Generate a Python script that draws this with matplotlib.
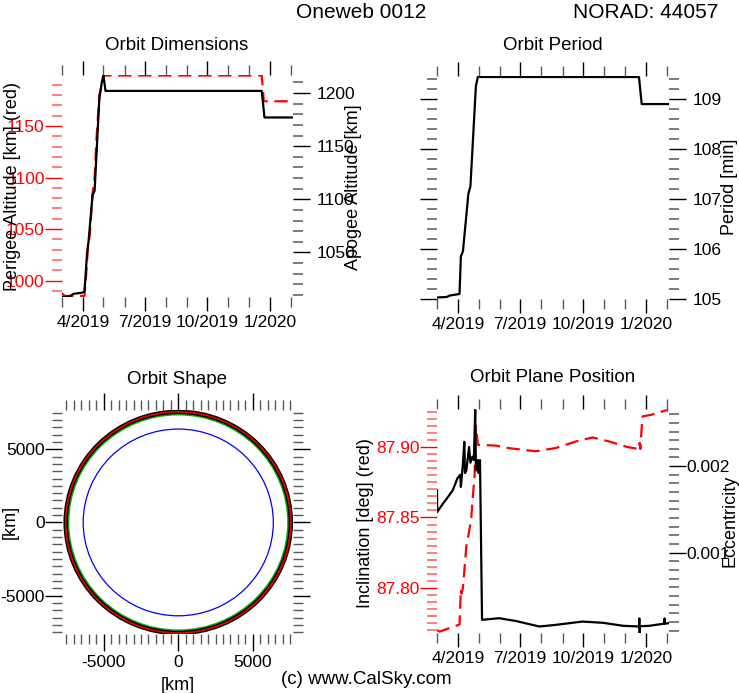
import numpy as np
import matplotlib
matplotlib.use('Agg')
import matplotlib.pyplot as plt
import matplotlib.dates as mdates
from matplotlib.ticker import MultipleLocator, FuncFormatter, FormatStrFormatter
from matplotlib.patches import Circle

plt.rcParams['font.family'] = ['Liberation Sans', 'DejaVu Sans']
plt.rcParams['axes.unicode_minus'] = False

W, H = 739, 693
TICK_FS = 12.5
LABEL_FS = 13

# --- data ---
apogee_dates = ['2019-03-01', '2019-03-12', '2019-03-18', '2019-03-30', '2019-04-03',
                '2019-04-07', '2019-04-09', '2019-04-15', '2019-04-18', '2019-04-25',
                '2019-04-28', '2019-05-01', '2019-05-04', '2019-12-20', '2019-12-24',
                '2020-02-03']
apogee_km = [1008, 1008.5, 1011, 1012, 1013, 1050, 1060, 1104, 1108, 1195,
             1208, 1217, 1202, 1202, 1177, 1177]

perigee_dates = ['2019-02-28', '2019-03-05', '2019-04-03', '2019-04-05', '2019-04-08',
                 '2019-04-11', '2019-04-15', '2019-04-18', '2019-04-21', '2019-04-25',
                 '2019-04-28', '2019-05-02', '2019-12-20', '2019-12-23', '2020-02-03']
perigee_km = [988, 985, 985, 1000, 1030, 1045, 1085, 1100, 1140, 1180,
              1188, 1199, 1199, 1174, 1174]

period_dates = ['2019-03-01', '2019-03-15', '2019-03-20', '2019-04-03', '2019-04-05',
                '2019-04-08', '2019-04-16', '2019-04-19', '2019-04-27', '2019-04-30',
                '2019-05-05', '2019-12-22', '2019-12-26', '2020-02-04']
period_min = [105.03, 105.04, 105.07, 105.10, 105.85, 105.95, 107.1, 107.25, 109.25,
              109.44, 109.43, 109.43, 108.89, 108.89]

incl_dates = ['2019-03-01', '2019-03-05', '2019-04-03', '2019-04-05', '2019-04-06',
              '2019-04-08', '2019-04-13', '2019-04-20', '2019-04-22', '2019-04-25',
              '2019-04-27', '2019-04-30', '2019-05-27', '2019-06-10', '2019-06-25',
              '2019-07-24', '2019-08-22', '2019-09-21', '2019-10-15', '2019-11-08',
              '2019-12-05', '2019-12-22', '2019-12-23', '2019-12-24', '2019-12-27',
              '2020-01-10', '2020-01-30', '2020-02-03']
incl_deg = [87.770, 87.769, 87.774, 87.799, 87.796, 87.800, 87.8295, 87.848, 87.862,
            87.879, 87.915, 87.9016, 87.901, 87.8995, 87.8986, 87.897, 87.8993, 87.904,
            87.9068, 87.904, 87.900, 87.8986, 87.903, 87.8986, 87.9217, 87.923, 87.926,
            87.926]

ecc_dates = ['2019-03-01T00', '2019-03-01T06', '2019-03-10', '2019-03-14', '2019-03-24',
             '2019-03-31', '2019-04-04', '2019-04-05', '2019-04-08', '2019-04-10',
             '2019-04-11', '2019-04-13', '2019-04-17', '2019-04-19', '2019-04-22',
             '2019-04-24', '2019-04-26', '2019-04-27', '2019-04-30', '2019-05-01',
             '2019-05-03', '2019-05-06', '2019-05-31', '2019-06-25', '2019-07-29',
             '2019-08-22', '2019-09-30', '2019-10-30', '2019-11-29', '2019-12-22T00',
             '2019-12-22T12', '2019-12-23T00', '2019-12-23T12', '2020-01-06',
             '2020-01-28T00', '2020-01-28T12', '2020-01-29', '2020-02-03']
ecc = [0.00172, 0.00147, 0.00157, 0.00161, 0.00172, 0.00186, 0.00190, 0.00176,
       0.00203, 0.00228, 0.00192, 0.00195, 0.00222, 0.00204, 0.00211, 0.00207,
       0.00265, 0.00195, 0.00207, 0.00192, 0.00207, 0.000224, 0.000243, 0.00021,
       0.000147, 0.000166, 0.000204, 0.00019, 0.000155, 0.000147, 0.00024,
       0.000074, 0.00015, 0.000155, 0.00018, 0.00024, 0.00018, 0.000185]

earth_radius_km = 6378
orbit_radius_km = earth_radius_km + (apogee_km[-1] + perigee_km[-1]) / 2
old_orbit_radius_km = orbit_radius_km - 170

x_start, x_end = np.datetime64('2019-03-01'), np.datetime64('2020-02-04')


def dt(lst):
    return np.array(lst, dtype='datetime64[h]')


def box(x0, y0, x1, y1):
    return [x0 / W, 1 - y1 / H, (x1 - x0) / W, (y1 - y0) / H]


def no_spines(ax):
    for s in ax.spines.values():
        s.set_visible(False)


def month_fmt(v, pos):
    d = mdates.num2date(v)
    return f"{d.month}/{d.year}"


def date_axis(ax):
    ax.set_xlim(x_start, x_end)
    ax.xaxis.set_major_locator(mdates.MonthLocator(bymonth=[1, 4, 7, 10]))
    ax.xaxis.set_minor_locator(mdates.MonthLocator())
    ax.xaxis.set_major_formatter(FuncFormatter(month_fmt))
    ax.tick_params(axis='x', which='both', top=True, bottom=True, direction='out',
                   labelsize=TICK_FS, pad=3)
    ax.tick_params(axis='x', which='major', length=10, width=1, color='black')
    ax.tick_params(axis='x', which='minor', length=7, width=1, color='0.35')


def y_ticks(ax, color, minor_color):
    ax.tick_params(axis='y', which='both', direction='out', labelsize=TICK_FS, pad=0.5)
    ax.tick_params(axis='y', which='major', length=12, width=1, colors=color)
    ax.tick_params(axis='y', which='minor', length=7.5, width=1.2, color=minor_color)


fig = plt.figure(figsize=(W / 100, H / 100), dpi=100)

fig.text(361 / W, 1 - 12 / H, 'Oneweb 0012', ha='center', va='center', fontsize=15)
fig.text(646 / W, 1 - 12 / H, 'NORAD: 44057', ha='center', va='center', fontsize=15)

# --- Orbit Dimensions ---
ax = fig.add_axes(box(62, 75, 293, 297))
no_spines(ax)
ax.plot(dt(perigee_dates), perigee_km, color='red', lw=1.6, dashes=(6, 3))
ax.set_ylim(984, 1199.5)
ax.yaxis.set_major_locator(MultipleLocator(50))
ax.yaxis.set_minor_locator(MultipleLocator(10))
date_axis(ax)
y_ticks(ax, 'red', '#ff6a6a')
ax2 = ax.twinx()
no_spines(ax2)
ax2.plot(dt(apogee_dates), apogee_km, color='black', lw=1.6)
ax2.set_ylim(1008, 1217)
ax2.yaxis.set_major_locator(MultipleLocator(50))
ax2.yaxis.set_minor_locator(MultipleLocator(10))
y_ticks(ax2, 'black', '0.4')
ax2.tick_params(axis='y', pad=5)
ax2.set_xlim(x_start, x_end)
fig.text(177 / W, 1 - 45 / H, 'Orbit Dimensions', ha='center', va='center', fontsize=13.5)
fig.text(13 / W, 1 - 187 / H, 'Perigee Altitude [km] (red)', rotation=90,
         ha='center', va='center', fontsize=LABEL_FS)
fig.text(354 / W, 1 - 187 / H, 'Apogee Altitude [km]', rotation=90,
         ha='center', va='center', fontsize=LABEL_FS)

# --- Orbit Period ---
ax = fig.add_axes(box(437, 76, 669, 299))
no_spines(ax)
ax.plot(dt(period_dates), period_min, color='black', lw=1.6)
ax.set_ylim(105.0, 109.45)
ax.yaxis.set_major_locator(MultipleLocator(1))
ax.yaxis.set_minor_locator(MultipleLocator(0.2))
ax.yaxis.set_major_formatter(FormatStrFormatter('%d'))
date_axis(ax)
y_ticks(ax, 'black', '0.4')
ax.tick_params(axis='y', which='both', left=True, right=True, labelleft=False,
               labelright=True, pad=5)
fig.text(553 / W, 1 - 45 / H, 'Orbit Period', ha='center', va='center', fontsize=13.5)
fig.text(730 / W, 1 - 187 / H, 'Period [min]', rotation=90,
         ha='center', va='center', fontsize=LABEL_FS)

# --- Orbit Shape ---
ax = fig.add_axes(box(62, 410, 293, 634))
no_spines(ax)
ax.add_patch(Circle((0, 0), earth_radius_km, fill=False, color='blue', lw=0.9))
ax.add_patch(Circle((0, 0), old_orbit_radius_km, fill=False, color='#00b000', lw=1.6))
ax.add_patch(Circle((0, 0), orbit_radius_km, fill=False, color='black', lw=3.2))
ax.add_patch(Circle((0, 0), orbit_radius_km, fill=False, color='#e00000', lw=1.3))
ax.set_xlim(-7800, 7700)
ax.set_ylim(-7620, 7680)
for axis in (ax.xaxis, ax.yaxis):
    axis.set_major_locator(MultipleLocator(5000))
    axis.set_minor_locator(MultipleLocator(500))
ax.tick_params(which='both', direction='out', top=True, right=True, labelsize=TICK_FS)
ax.tick_params(which='major', length=12, width=1, color='black')
ax.tick_params(which='minor', length=7, width=1, color='0.35')
ax.tick_params(axis='x', pad=3)
ax.tick_params(axis='y', pad=0.5)
fig.text(177 / W, 1 - 379 / H, 'Orbit Shape', ha='center', va='center', fontsize=13.5)
fig.text(10 / W, 1 - 522 / H, '[km]', rotation=90, ha='center', va='center',
         fontsize=LABEL_FS)
fig.text(178 / W, 1 - 686 / H, '[km]', ha='center', va='center', fontsize=LABEL_FS)

# --- Orbit Plane Position ---
ax = fig.add_axes(box(437, 409, 669, 633))
no_spines(ax)
ax.plot(dt(incl_dates), incl_deg, color='red', lw=1.6, dashes=(6, 3))
ax.set_ylim(87.768, 87.927)
ax.yaxis.set_major_locator(MultipleLocator(0.05))
ax.yaxis.set_minor_locator(MultipleLocator(0.005))
ax.yaxis.set_major_formatter(FormatStrFormatter('%.2f'))
date_axis(ax)
y_ticks(ax, 'red', '#ff6a6a')
ax2 = ax.twinx()
no_spines(ax2)
ax2.plot(dt(ecc_dates), ecc, color='black', lw=1.6)
ax2.set_ylim(0.000072, 0.00266)
ax2.yaxis.set_major_locator(MultipleLocator(0.001))
ax2.yaxis.set_minor_locator(MultipleLocator(0.0001))
ax2.yaxis.set_major_formatter(FormatStrFormatter('%.3f'))
y_ticks(ax2, 'black', '0.4')
ax2.set_xlim(x_start, x_end)
fig.text(553 / W, 1 - 378 / H, 'Orbit Plane Position', ha='center', va='center',
         fontsize=13.5)
fig.text(365 / W, 1 - 523 / H, 'Inclination [deg] (red)', rotation=90,
         ha='center', va='center', fontsize=LABEL_FS)
fig.text(730 / W, 1 - 521 / H, 'Eccentricity', rotation=90,
         ha='center', va='center', fontsize=LABEL_FS)

fig.text(366 / W, 1 - 679 / H, '(c) www.CalSky.com', ha='center', va='center',
         fontsize=13.5)

fig.savefig('out.png', dpi=100)
